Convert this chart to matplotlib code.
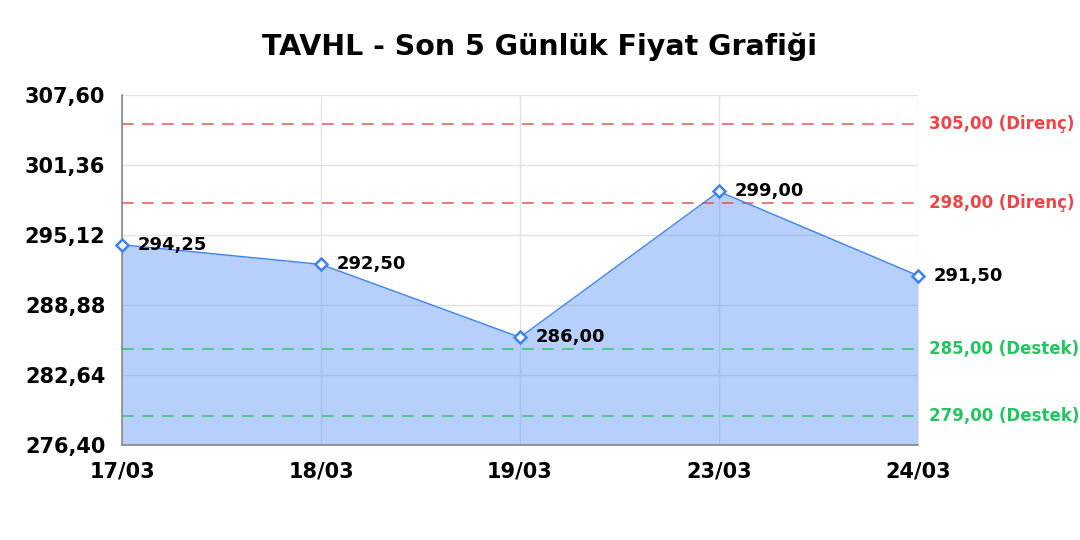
import matplotlib.pyplot as plt

plt.rcParams["font.family"] = ["DejaVu Sans"]

# veriler
tarihler = ["17/03", "18/03", "19/03", "23/03", "24/03"]
fiyatlar = [294.25, 292.50, 286.00, 299.00, 291.50]
direncler = [305.00, 298.00]
destekler = [285.00, 279.00]
y_ticks = [276.40, 282.64, 288.88, 295.12, 301.36, 307.60]

mavi = "#3b82f6"
kirmizi = "#ef4444"
yesil = "#22c55e"

def tr(v):
    return f"{v:.2f}".replace(".", ",")

fig = plt.figure(figsize=(10.8, 5.4), dpi=100)
ax = fig.add_axes([0.113, 0.176, 0.737, 0.648])

x = list(range(len(tarihler)))
ax.fill_between(x, fiyatlar, y_ticks[0], color=mavi, alpha=0.37, linewidth=0, zorder=1)
ax.plot(x, fiyatlar, color=mavi, linewidth=1, zorder=3)
ax.plot(x, fiyatlar, linestyle="none", marker="D", markersize=6.5,
        markerfacecolor="white", markeredgecolor=mavi, markeredgewidth=1.8,
        zorder=4, clip_on=False)

for xi, v in zip(x, fiyatlar):
    ax.annotate(tr(v), (xi, v), xytext=(11, 0), textcoords="offset points",
                fontsize=13, fontweight="bold", va="center", ha="left", zorder=5)

for seviye in direncler:
    ax.axhline(seviye, color=kirmizi, linestyle=(0, (7, 5)), linewidth=1.2, alpha=0.85, zorder=2)
    ax.annotate(f"{tr(seviye)} (Direnç)", (1, seviye), xycoords=("axes fraction", "data"),
                xytext=(8, 0), textcoords="offset points", color=kirmizi,
                fontsize=12, fontweight="bold", va="center", annotation_clip=False)
for seviye in destekler:
    ax.axhline(seviye, color=yesil, linestyle=(0, (7, 5)), linewidth=1.2, alpha=0.85, zorder=2)
    ax.annotate(f"{tr(seviye)} (Destek)", (1, seviye), xycoords=("axes fraction", "data"),
                xytext=(8, 0), textcoords="offset points", color=yesil,
                fontsize=12, fontweight="bold", va="center", annotation_clip=False)

ax.set_xlim(0, len(tarihler) - 1)
ax.set_ylim(y_ticks[0], y_ticks[-1])
ax.set_xticks(x)
ax.set_xticklabels(tarihler, fontsize=15, fontweight="bold")
ax.set_yticks(y_ticks)
ax.set_yticklabels([tr(v) for v in y_ticks], fontsize=15, fontweight="bold")
ax.tick_params(length=0, pad=12)
ax.grid(True, color="#e3e3e3", linewidth=1, zorder=0)
ax.set_axisbelow(True)

for s in ["top", "right"]:
    ax.spines[s].set_visible(False)
for s in ["left", "bottom"]:
    ax.spines[s].set_color("#888888")
    ax.spines[s].set_linewidth(1.2)

fig.suptitle("TAVHL - Son 5 Günlük Fiyat Grafiği", fontsize=20.5, fontweight="bold", y=0.94)

fig.savefig("out.png", dpi=100)
